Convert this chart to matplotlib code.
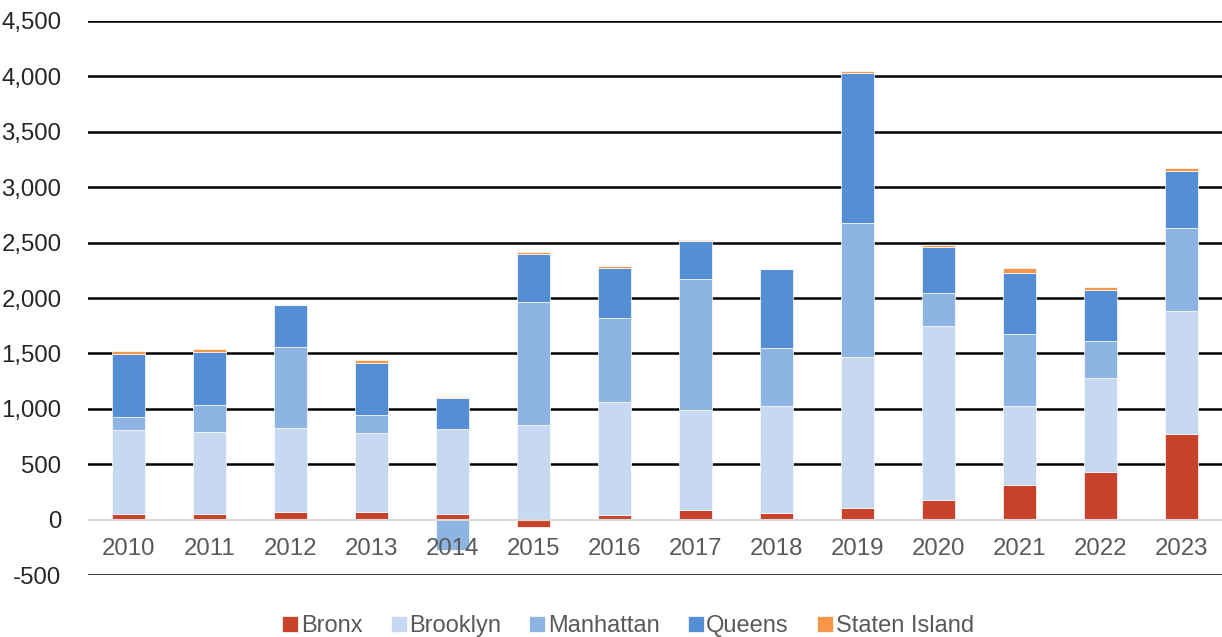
import matplotlib
matplotlib.use("Agg")
import matplotlib.pyplot as plt
import numpy as np

years = ["2010", "2011", "2012", "2013", "2014", "2015", "2016",
         "2017", "2018", "2019", "2020", "2021", "2022", "2023"]
bronx = [50, 50, 65, 65, 50, -70, 38, 88, 56, 107, 176, 314, 429, 772]
brooklyn = [755, 743, 764, 713, 770, 853, 1022, 897, 966, 1357, 1570, 713, 848, 1113]
manhattan = [120, 238, 731, 165, -270, 1113, 759, 1186, 526, 1215, 298, 644, 334, 746]
queens = [572, 484, 375, 472, 274, 430, 454, 340, 710, 1354, 413, 557, 463, 517]
staten = [24, 24, 5, 27, 12, 16, 12, 14, 2, 18, 20, 39, 27, 27]

series = [("Bronx", bronx, "#C9432C"),
          ("Brooklyn", brooklyn, "#C6D9F0"),
          ("Manhattan", manhattan, "#8EB4E3"),
          ("Queens", queens, "#558ED5"),
          ("Staten Island", staten, "#F79646")]

plt.rcParams['font.family'] = ['Liberation Sans', 'DejaVu Sans']

fig = plt.figure(figsize=(12.22, 6.37), dpi=100)
ax = fig.add_axes([88/1222, 1 - 575/637, 1 - 88/1222, (575 - 21)/637])

x = np.arange(len(years))
pos_bottom = np.zeros(len(years))
neg_bottom = np.zeros(len(years))
for name, vals, color in series:
    v = np.array(vals, dtype=float)
    bottom = np.where(v >= 0, pos_bottom, neg_bottom)
    ax.bar(x, v, bottom=bottom, width=0.4, color=color, label=name,
           edgecolor='white', linewidth=0.5, zorder=2)
    pos_bottom += np.where(v >= 0, v, 0)
    neg_bottom += np.where(v < 0, v, 0)

ax.set_xlim(-0.5, len(years) - 0.5)
ax.set_ylim(-500, 4500)
ax.spines['bottom'].set_position(('data', 0))
for s in ['top', 'right', 'left', 'bottom']:
    ax.spines[s].set_visible(False)

yt = np.arange(-500, 4501, 500)
ax.set_yticks(yt)
ax.set_yticklabels([f"{v:,}" for v in yt], fontsize=17.3, color='#262626')
for v in yt:
    if v != 0:
        ax.axhline(v, color='black', lw=1.8, zorder=1)
ax.axhline(0, color='#D9D9D9', lw=1.5, zorder=2.2)

ax.set_xticks(x)
ax.set_xticklabels(years, fontsize=17.3, color='#595959')
ax.tick_params(axis='both', length=0)
ax.tick_params(axis='y', pad=19)
ax.tick_params(axis='x', pad=13)
ax.xaxis.set_zorder(5)

leg = fig.legend(loc='center', bbox_to_anchor=(628/1222, 1 - 626/637), ncol=5,
                 frameon=False, fontsize=17, handlelength=0.68, handleheight=0.68,
                 handletextpad=0.1, columnspacing=1.2, labelcolor='#595959',
                 borderpad=0.2)

fig.savefig("out.png", dpi=100)
